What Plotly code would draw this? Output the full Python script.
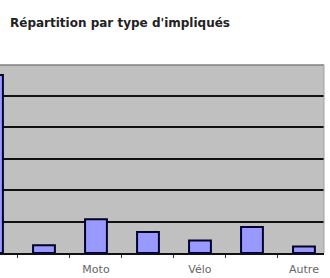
import plotly.graph_objects as go

title_text = "Répartition par type d'impliqués"
categories = ["Voiture", "Camion", "Moto", "Cyclo", "Vélo", "Piéton", "Autre"]
values = [566, 25, 107, 67, 40, 83, 21]

fig = go.Figure(go.Bar(
    x=categories, y=values, width=0.42,
    marker=dict(color="#9999FF", line=dict(color="#000033", width=2)),
))

fig.update_layout(
    width=330, height=278,
    margin=dict(l=0, r=6, t=65, b=25),
    paper_bgcolor="white", plot_bgcolor="#C0C0C0",
    showlegend=False,
    title=dict(text="<b>" + title_text + "</b>", x=10/330, xanchor="left",
               y=1 - 22.5/278, yanchor="middle",
               font=dict(family="DejaVu Sans", size=12, color="#222")),
    font=dict(family="DejaVu Sans"),
)
fig.update_xaxes(
    type="category", range=[0.154, 6.385], automargin=False,
    tickson="boundaries", ticks="outside", ticklen=3, tickcolor="#333",
    ticklabelstep=2, showgrid=False, ticklabelstandoff=5,
    showline=True, linecolor="#111", linewidth=1.5,
    tickfont=dict(size=11, color="#666"),
)
fig.update_yaxes(
    range=[0, 598], dtick=100, showgrid=True, gridcolor="#111", gridwidth=2,
    showticklabels=False, zeroline=False, showline=False, automargin=False,
)
fig.add_shape(type="line", xref="paper", yref="paper", x0=0, x1=1, y0=1, y1=1,
              line=dict(color="#808080", width=1.5))
fig.add_shape(type="line", xref="paper", yref="paper", x0=1, x1=1, y0=0, y1=1,
              line=dict(color="#A0A0A0", width=1))
fig.write_html("out.html", config={"displayModeBar": False},
               post_script="document.body.style.margin='0';")
